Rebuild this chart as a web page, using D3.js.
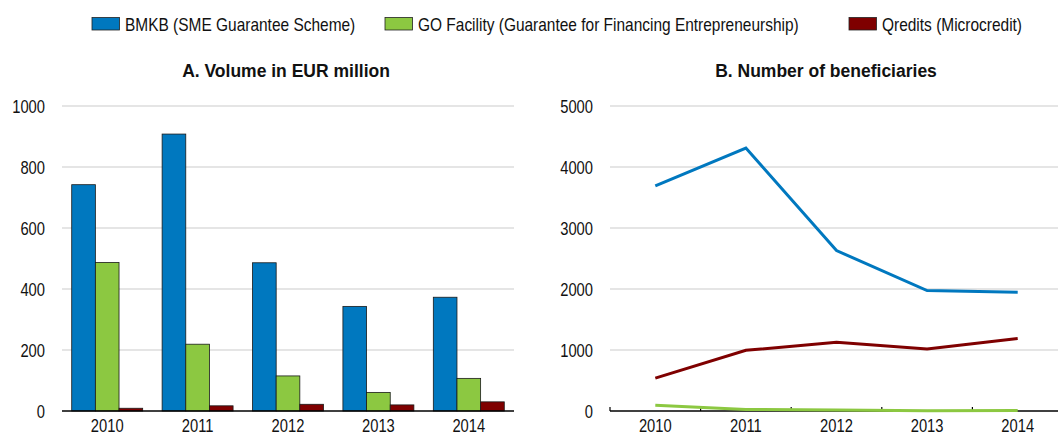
<!DOCTYPE html>
<meta charset="utf-8">
<html>
<head>
<title>SME finance schemes</title>
<script src="https://cdn.jsdelivr.net/npm/d3@7"></script>
<style>
  body { margin: 0; background: #fff; }
  text { font-family: "Liberation Sans", Arial, sans-serif; fill: #111; }
  .title { font-weight: bold; font-size: 17.5px; }
  .lab { font-size: 18px; }
</style>
</head>
<body>
<div id="chart"></div>
<script>
// data
var years = ["2010", "2011", "2012", "2013", "2014"];
var seriesNames = ["BMKB (SME Guarantee Scheme)", "GO Facility (Guarantee for Financing Entrepreneurship)", "Qredits (Microcredit)"];
var colors = ["#0078bf", "#8cc841", "#7f0000"];

// A. volume in EUR million
var volBMKB = [742, 908, 486, 343, 373];
var volGO = [487, 219, 115, 61, 107];
var volQredits = [9, 17, 22, 20, 30];
var volTicks = [0, 200, 400, 600, 800, 1000];

// B. number of beneficiaries
var benBMKB = [3690, 4310, 2630, 1975, 1945];
var benGO = [95, 25, 15, 5, 10];
var benQredits = [540, 995, 1125, 1015, 1190];
var benTicks = [0, 1000, 2000, 3000, 4000, 5000];

var W = 1058, H = 436;
var svg = d3.select("#chart").append("svg")
    .attr("width", W)
    .attr("height", H);

// narrow-looking labels: no narrow font installed, so squeeze horizontally
function narrowText(sel, x, y, anchor, sx) {
    return sel.append("g")
        .attr("transform", function(d, i){ return "translate(" + x(d, i) + "," + y(d, i) + ") scale(" + sx + ",1)"; })
        .append("text")
        .attr("class", "lab")
        .attr("text-anchor", anchor)
        .text(function(d){ return d; });
}

// legend
var legendX = [92, 385, 849];
var lg = svg.selectAll(".lg").data(seriesNames).enter().append("g")
    .attr("transform", function(d, i){ return "translate(" + legendX[i] + ",17.5)"; });
lg.append("rect")
    .attr("width", 27.5).attr("height", 12.5)
    .style("fill", function(d, i){ return colors[i]; })
    .style("stroke", "#222").style("stroke-width", 0.8);
narrowText(lg, function(){ return 33; }, function(){ return 13.5; }, "start", 0.86);

var yTop = 106, yBot = 411;

// ---------- panel A: bars ----------
var xA = d3.scaleBand().domain(years).range([62, 514]);
var yA = d3.scaleLinear().domain([0, 1000]).range([yBot, yTop]);
var groupW = xA.bandwidth() * 0.785;
var x1 = d3.scaleBand().domain([0, 1, 2]).range([0, groupW]);
var volSeries = [volBMKB, volGO, volQredits];

svg.append("text").attr("class", "title")
    .attr("x", 286).attr("y", 77).attr("text-anchor", "middle")
    .text("A. Volume in EUR million");

svg.selectAll(".gridA").data(volTicks.slice(1)).enter().append("line")
    .attr("x1", 62).attr("x2", 514)
    .attr("y1", function(d){ return yA(d); }).attr("y2", function(d){ return yA(d); })
    .style("stroke", "#dcdcdc").style("stroke-width", 1.5);

narrowText(svg.selectAll(".ylabA").data(volTicks).enter(),
    function(){ return 45; }, function(d){ return yA(d) + 6.5; }, "end", 0.82);

volSeries.forEach(function(vals, s){
    svg.selectAll(".bar" + s).data(vals).enter().append("rect")
        .attr("x", function(d, i){ return xA(years[i]) + (xA.bandwidth() - groupW) / 2 + x1(s); })
        .attr("y", function(d){ return yA(d); })
        .attr("width", x1.bandwidth())
        .attr("height", function(d){ return yBot - yA(d); })
        .style("fill", colors[s])
        .style("stroke", "#1a1a1a").style("stroke-width", 0.8);
});

svg.append("line").attr("x1", 62).attr("x2", 514).attr("y1", yBot).attr("y2", yBot)
    .style("stroke", "#000").style("stroke-width", 1.5);

narrowText(svg.selectAll(".xlabA").data(years).enter(),
    function(d){ return xA(d) + xA.bandwidth() / 2; }, function(){ return 432; }, "middle", 0.82);

// ---------- panel B: lines ----------
var xB = d3.scaleBand().domain(years).range([610, 1063]);
var yB = d3.scaleLinear().domain([0, 5000]).range([yBot, yTop]);
var benSeries = [benBMKB, benGO, benQredits];

svg.append("text").attr("class", "title")
    .attr("x", 826).attr("y", 77).attr("text-anchor", "middle")
    .text("B. Number of beneficiaries");

svg.selectAll(".gridB").data(benTicks.slice(1)).enter().append("line")
    .attr("x1", 610).attr("x2", W)
    .attr("y1", function(d){ return yB(d); }).attr("y2", function(d){ return yB(d); })
    .style("stroke", "#dcdcdc").style("stroke-width", 1.5);

narrowText(svg.selectAll(".ylabB").data(benTicks).enter(),
    function(){ return 593; }, function(d){ return yB(d) + 6.5; }, "end", 0.82);

svg.append("line").attr("x1", 610).attr("x2", W).attr("y1", yBot).attr("y2", yBot)
    .style("stroke", "#000").style("stroke-width", 1.5);

// tick marks at band edges
svg.selectAll(".tickB").data(years).enter().append("line")
    .attr("x1", function(d){ return xB(d); }).attr("x2", function(d){ return xB(d); })
    .attr("y1", yBot).attr("y2", yBot - 4)
    .style("stroke", "#000").style("stroke-width", 1.2);

var line = d3.line()
    .x(function(d, i){ return xB(years[i]) + xB.bandwidth() / 2; })
    .y(function(d){ return yB(d); });

[1, 2, 0].forEach(function(s){
    svg.append("path").datum(benSeries[s])
        .attr("d", line)
        .style("fill", "none")
        .style("stroke", colors[s])
        .style("stroke-width", 3);
});

narrowText(svg.selectAll(".xlabB").data(years).enter(),
    function(d){ return xB(d) + xB.bandwidth() / 2; }, function(){ return 432; }, "middle", 0.82);
</script>
</body>
</html>
